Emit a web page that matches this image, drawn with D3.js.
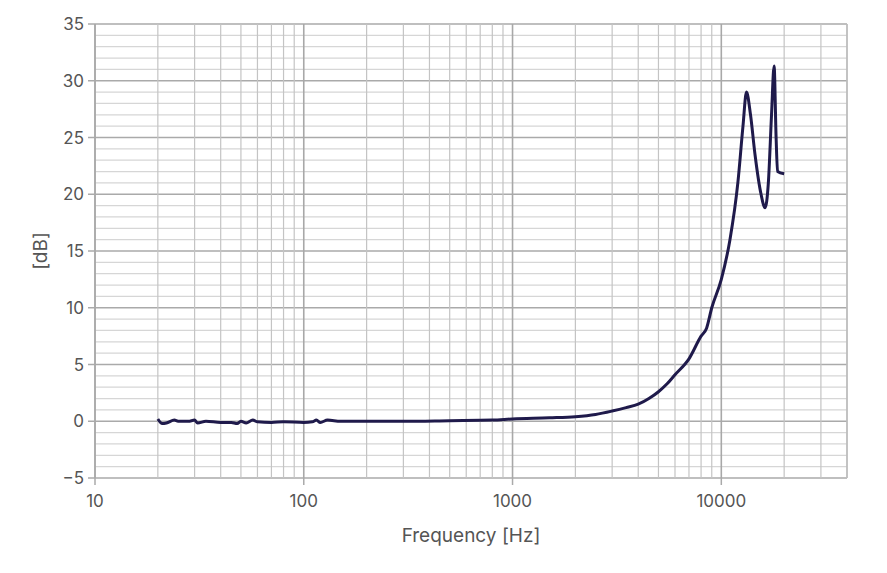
<!DOCTYPE html>
<html><head><meta charset="utf-8">
<script src="https://cdn.jsdelivr.net/npm/d3@7"></script>
<style>body{margin:0;background:#fff}text{font-family:Inter,"Open Sans",sans-serif;fill:#555}</style>
</head><body><svg id="c" width="887" height="573"></svg>
<script>
const freqs = [20,21,22,24,25,28,30,31,34,40,45,48,50,53,57,60,70,80,100,110,115,120,130,150,200,300,500,800,1000,1500,2000,2500,3000,3500,4000,4500,5000,5500,6000,7000,8000,8500,9000,10000,11000,12000,12700,13200,13800,14500,15500,16200,16800,17400,17900,18300,18600,20000];
const levels = [0.2,-0.2,-0.15,0.1,0,0,0.1,-0.15,0,-0.1,-0.1,-0.2,0,-0.15,0.1,-0.05,-0.1,-0.05,-0.1,-0.05,0.1,-0.1,0.1,0,0,0,0.05,0.1,0.2,0.3,0.4,0.6,0.9,1.2,1.5,2,2.6,3.3,4.1,5.5,7.5,8.2,10,12.5,16,21,26,29,27,23.5,20,18.8,21,27,31.3,25,22,21.8];
const xTicks = [10,100,1000,10000];
const yTicks = [-5,0,5,10,15,20,25,30,35];

const svg = d3.select('#c');
const x = d3.scaleLog().domain([10,40000]).range([95,847]);
const y = d3.scaleLinear().domain([-5,35]).range([478,24]);

const minorX = [];
for (let d = 10; d < 40000; d *= 10) for (let k = 1; k < 10; k++) if (d*k <= 40000) minorX.push(d*k);
const minorY = d3.range(-5,36,1);

const g = svg.append('g');
g.selectAll('.my').data(minorY).join('line')
  .attr('x1',95).attr('x2',847).attr('y1',d=>y(d)).attr('y2',d=>y(d))
  .attr('stroke', d => d % 5 === 0 ? '#aaa' : '#d6d6d6').attr('stroke-width', d => d % 5 === 0 ? 1.5 : 1.2);
g.selectAll('.mx').data(minorX).join('line')
  .attr('y1',24).attr('y2',478).attr('x1',d=>x(d)).attr('x2',d=>x(d))
  .attr('stroke', d => xTicks.includes(d) ? '#a8a8a8' : '#c4c4c4').attr('stroke-width', d => xTicks.includes(d) ? 1.6 : 1.2);
g.append('line').attr('x1',847).attr('x2',847).attr('y1',24).attr('y2',478).attr('stroke','#bbb').attr('stroke-width',1.5);
g.append('line').attr('x1',95).attr('x2',95).attr('y1',24).attr('y2',478).attr('stroke','#aaa').attr('stroke-width',1.5);

// ticks
g.selectAll('.yt').data(yTicks).join('line').attr('x1',88).attr('x2',95).attr('y1',d=>y(d)).attr('y2',d=>y(d)).attr('stroke','#aaa').attr('stroke-width',1.5);
g.selectAll('.xt').data(xTicks).join('line').attr('x1',d=>x(d)).attr('x2',d=>x(d)).attr('y1',478).attr('y2',485).attr('stroke','#aaa').attr('stroke-width',1.5);

svg.selectAll('.yl').data(yTicks).join('text')
  .attr('x',84).attr('y',d=>y(d)+6).attr('text-anchor','end').attr('font-size',17)
  .text(d => d < 0 ? '\u2212' + Math.abs(d) : d);
svg.selectAll('.xl').data(xTicks).join('text')
  .attr('x',d=>x(d)).attr('y',507).attr('text-anchor','middle').attr('font-size',17).text(d=>d);

svg.append('text').attr('x',471).attr('y',542).attr('text-anchor','middle').attr('font-size',19).text('Frequency [Hz]');
svg.append('text').attr('transform','translate(47,251) rotate(-90)').attr('text-anchor','middle').attr('font-size',19).text('[dB]');

const line = d3.line().x(d=>x(d[0])).y(d=>y(d[1])).curve(d3.curveMonotoneX);
svg.append('path').datum(d3.zip(freqs, levels)).attr('d', line)
  .attr('fill','none').attr('stroke','#1f1a4b').attr('stroke-width',3).attr('stroke-linejoin','round');
</script></body></html>
